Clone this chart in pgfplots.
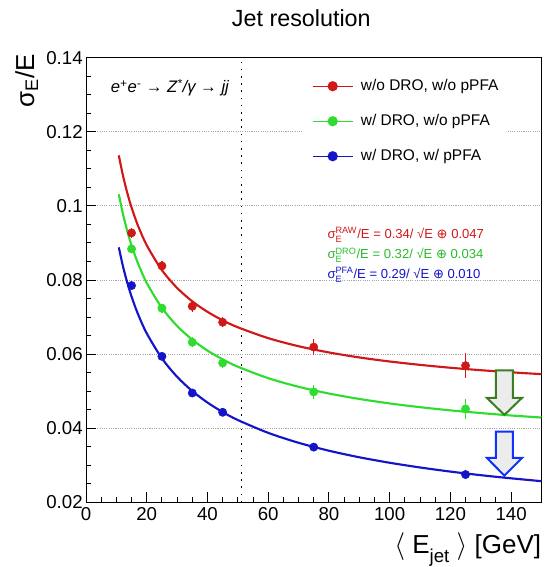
\documentclass[border=0pt]{standalone}
\usepackage{amsmath}
\usepackage{fontspec}
\setmainfont{Liberation Sans}
\newfontfamily\dejavu{DejaVu Sans}
\usepackage{pgfplots}
\pgfplotsset{compat=1.18}

\definecolor{rootred}{HTML}{D01818}
\definecolor{rootgreen}{HTML}{30DC30}
\definecolor{rootblue}{HTML}{1414C8}
\definecolor{arrgreen}{HTML}{3A7D22}
\definecolor{arrblue}{HTML}{1030FF}
\definecolor{arrfill}{HTML}{ECECEC}

\newcommand\fs[1]{\fontsize{#1}{#1}\selectfont}

% measured points (x, sigma/E, error)
\pgfplotstableread{
x     y       e
15    0.0927  0.0008
25    0.0838  0.0008
35    0.0729  0.0009
45    0.0686  0.0009
75    0.0619  0.0016
125   0.0569  0.0028
}\rawdata
\pgfplotstableread{
x     y       e
15    0.0884  0.0007
25    0.0724  0.0007
35    0.0632  0.0008
45    0.0576  0.0009
75    0.0498  0.0014
125   0.0452  0.0023
}\drodata
\pgfplotstableread{
x     y       e
15    0.0785  0.0005
25    0.0594  0.0005
35    0.0495  0.0005
45    0.0443  0.0005
75    0.0349  0.0006
125   0.0275  0.0008
}\pfadata

% fitted curves
\pgfplotstableread{
x     r        g        b
10.8  0.11363  0.10314  0.08881
12    0.10882  0.09843  0.08431
13    0.10536  0.09504  0.08105
14    0.10230  0.09203  0.07815
15    0.09958  0.08935  0.07554
17    0.09492  0.08473  0.07104
20    0.08938  0.07922  0.06561
25    0.08266  0.07247  0.05886
30    0.07786  0.06760  0.05388
35    0.07424  0.06389  0.05003
40    0.07141  0.06096  0.04693
45    0.06912  0.05858  0.04437
50    0.06724  0.05660  0.04221
60    0.06431  0.05351  0.03875
70    0.06213  0.05118  0.03607
80    0.06045  0.04936  0.03393
90    0.05910  0.04790  0.03216
100   0.05801  0.04669  0.03068
110   0.05710  0.04568  0.02941
120   0.05632  0.04482  0.02830
130   0.05566  0.04409  0.02733
140   0.05509  0.04344  0.02648
150   0.05459  0.04288  0.02571
}\fits

\pgfplotsset{
  pts/.style={only marks, mark=*, mark size=3.1pt, color=#1, forget plot,
    error bars/.cd, y dir=both, y explicit,
    error bar style={line width=0.9pt, color=#1},
    error mark options={mark size=1.4pt, line width=0.9pt, color=#1}},
  fit/.style={color=#1, line width=1.6pt, smooth, no marks,
    legend image code/.code={
      \draw[##1, line width=0.9pt] (0pt,0pt) -- (30pt,0pt);
      \fill[##1] (15pt,0pt) circle (3pt);}},
}

\begin{document}
\begin{tikzpicture}[x=1pt,y=1pt]
\useasboundingbox (0,0) rectangle (408,425.25);
\begin{axis}[
  at={(64.5pt,48.5pt)}, anchor=south west,
  scale only axis, width=341.6pt, height=333.5pt,
  xmin=0, xmax=150, ymin=0.02, ymax=0.14,
  xtick={0,20,40,60,80,100,120,140},
  xticklabels={0,20,40,60,80,100,120,140},
  ytick={0.02,0.04,0.06,0.08,0.1,0.12,0.14},
  yticklabels={0.02,0.04,0.06,0.08,0.1,0.12,0.14},
  minor x tick num=3, minor y tick num=3,
  tick align=inside, tick pos=left,
  major tick length=7.5pt, minor tick length=4pt,
  tick style={black, line width=0.7pt},
  axis line style={line width=0.75pt},
  ymajorgrids,
  major grid style={gray!70, line width=0.6pt, dash pattern=on 0.8pt off 0.9pt},
  ticklabel style={font=\fs{14}},
  xticklabel style={inner sep=0pt, anchor=north, yshift=-4pt},
  yticklabel style={inner sep=0pt, anchor=east, xshift=-2.3pt},
  legend style={at={(axis cs:71.3,0.1365)}, anchor=north west,
    draw=none, fill=white, font=\fs{11.6},
    inner xsep=7pt, inner ysep=6pt, row sep=15.25pt,
    nodes={inner sep=0pt, text height=8.4pt, text depth=2.6pt},
    /tikz/every odd column/.append style={column sep=5.7pt}},
  legend cell align=left,
  clip=false,
]

% vertical marker line
\addplot[forget plot, black, line width=1pt, dash pattern=on 1.1pt off 4.3pt]
  coordinates {(51.2,0.02) (51.2,0.14)};

\addplot[fit=rootred]   table[x=x, y=r] {\fits};
\addlegendentry{w/o DRO, w/o pPFA}
\addplot[fit=rootgreen] table[x=x, y=g] {\fits};
\addlegendentry{w/ DRO, w/o pPFA}
\addplot[fit=rootblue]  table[x=x, y=b] {\fits};
\addlegendentry{w/ DRO, w/ pPFA}

\addplot[pts=rootred]   table[x=x, y=y, y error=e] {\rawdata};
\addplot[pts=rootgreen] table[x=x, y=y, y error=e] {\drodata};
\addplot[pts=rootblue]  table[x=x, y=y, y error=e] {\pfadata};

% block arrows
\addplot[forget plot, draw=arrgreen, fill=arrfill, line width=1.5pt, line join=miter]
  coordinates {(135.0,0.0556) (140.6,0.0556) (140.6,0.0482) (143.6,0.0482)
               (137.8,0.0436) (132.0,0.0482) (135.0,0.0482)} --cycle;
\addplot[forget plot, draw=arrblue, fill=arrfill, line width=1.5pt, line join=miter]
  coordinates {(135.0,0.0391) (140.6,0.0391) (140.6,0.0320) (143.6,0.0320)
               (137.8,0.0272) (132.0,0.0320) (135.0,0.0320)} --cycle;

\node[anchor=base west, font=\fs{12.5}\itshape] at (axis cs:6.6,0.1305)
  {e$^{\text{+}}$e$^{\text{-}}$ → Z$^{\text{*}}$/γ → jj};

\node[anchor=base west, font=\fs{9.8}, text=rootred] at (axis cs:78,0.0912)
  {σ$^{\text{RAW}}_{\text{E}}$/E = 0.34/ √E {\dejavu ⊕} 0.047};
\node[anchor=base west, font=\fs{9.8}, text=rootgreen!85!black] at (axis cs:78,0.0857)
  {σ$^{\text{DRO}}_{\text{E}}$/E = 0.32/ √E {\dejavu ⊕} 0.034};
\node[anchor=base west, font=\fs{9.8}, text=rootblue] at (axis cs:78,0.0804)
  {σ$^{\text{PFA}}_{\text{E}}$/E = 0.29/ √E {\dejavu ⊕} 0.010};
\end{axis}

\node[anchor=base, font=\fs{17.5}] at (226,405) {Jet resolution};
\node[anchor=east, rotate=90, font=\fs{19.5}] at (20,388) {σ$_{\text{E}}$/E};
\node[anchor=base east, inner sep=0pt, font=\fs{19.5}] at (406,10)
  {$\langle$ E\raisebox{-6.5pt}{\fs{14}jet} $\rangle$ [GeV]};
\end{tikzpicture}
\end{document}
